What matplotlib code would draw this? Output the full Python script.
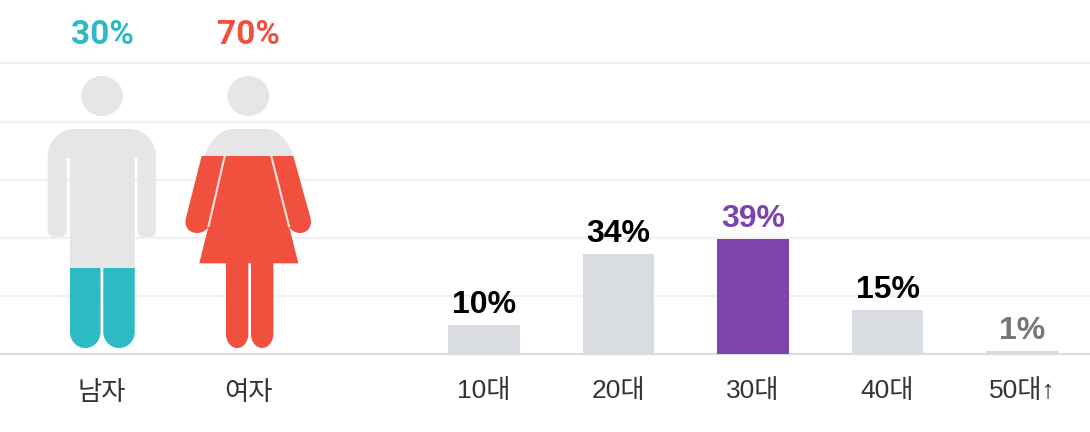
import matplotlib
matplotlib.use("Agg")
import matplotlib.pyplot as plt
from matplotlib.path import Path
from matplotlib.patches import PathPatch, Ellipse, Rectangle

gender_labels = ["남자", "여자"]
gender_values = [30, 70]
age_labels = ["10대", "20대", "30대", "40대", "50대↑"]
age_values = [10, 34, 39, 15, 1]

W, H = 1090, 432
GREY = "#e6e6e6"
TEAL = "#2cbac5"
RED = "#f2503e"
BAR = "#d9dde1"
PURPLE = "#7d44ab"
LABEL_FONT = ["Liberation Sans", "Noto Sans CJK KR"]


def outline(start):
    # small path builder, corner() rounds towards the corner point
    verts = [start]
    codes = [Path.MOVETO]

    def line(*pts):
        for p in pts:
            verts.append(p)
            codes.append(Path.LINETO)

    def corner(c, p):
        a = verts[-1]
        k = 0.55
        verts.append((a[0] + (c[0] - a[0]) * k, a[1] + (c[1] - a[1]) * k))
        verts.append((p[0] + (c[0] - p[0]) * k, p[1] + (c[1] - p[1]) * k))
        verts.append(p)
        codes.extend([Path.CURVE4] * 3)

    def done():
        verts.append(start)
        codes.append(Path.CLOSEPOLY)
        return Path(verts, codes)

    return line, corner, done


def man_path():
    line, corner, done = outline((47.7, 156))
    corner((47.7, 129), (75, 129))
    line((129, 129))
    corner((156, 129), (156, 156))
    line((156, 231))
    corner((156, 237), (150, 237))
    line((143, 237))
    corner((137.4, 237), (137.4, 231))
    line((137.4, 158), (134.7, 158), (134.7, 332))
    corner((134.7, 348), (119, 348))
    corner((103.3, 348), (103.3, 332))
    line((103.3, 268), (100.5, 268), (100.5, 332))
    corner((100.5, 348), (85.2, 348))
    corner((70, 348), (70, 332))
    line((70, 158), (66.7, 158), (66.7, 231))
    corner((66.7, 237), (61, 237))
    line((54, 237))
    corner((47.7, 237), (47.7, 231))
    return done()


def woman_path():
    line, corner, done = outline((205, 156))
    corner((212, 129), (232, 129))
    line((266, 129))
    corner((286, 129), (293.3, 156))
    line((310.5, 218))
    corner((314, 233), (300, 233))
    corner((291, 233), (289, 226))
    line((298.3, 263.3), (273.3, 263.3), (273.3, 334))
    corner((273.3, 348), (262, 348))
    corner((251, 348), (251, 334))
    line((251, 263.3), (248.3, 263.3), (248.3, 334))
    corner((248.3, 348), (237, 348))
    corner((226, 348), (226, 334))
    line((226, 263.3), (199.3, 263.3), (208.6, 226))
    corner((206.6, 233), (197, 233))
    corner((182, 233), (186, 218))
    line((201.7, 156))
    return done()


fig = plt.figure(figsize=(W / 100, H / 100), dpi=100)

# background axes in picture pixels: grid lines and the two figures
bg = fig.add_axes([0, 0, 1, 1])
bg.set_xlim(0, W)
bg.set_ylim(H, 0)
bg.axis("off")

for gy in [63, 121.5, 179.5, 238, 296]:
    bg.axhline(gy, color="#f1f1f1", lw=1.6, zorder=1)
bg.axhline(354, color="#dcdcdc", lw=1.6, zorder=1)

people = [
    (man_path(), 102, TEAL, 268),
    (woman_path(), 248.3, RED, 156),
]
for i, (shape, cx, col, level) in enumerate(people):
    bg.add_patch(Ellipse((cx, 96), 42, 40, color=GREY, lw=0, zorder=2))
    bg.add_patch(PathPatch(shape, fc=GREY, ec="none", zorder=2))
    fill = PathPatch(shape, fc=col, ec="none", zorder=3)
    bg.add_patch(fill)
    fill.set_clip_path(Rectangle((cx - 80, level), 160, 360 - level, transform=bg.transData))
    bg.text(cx, 44, f"{gender_values[i]}%", color=col, fontsize=24, fontweight="bold",
            family="Roboto", ha="center", va="baseline", zorder=5)
    bg.text(cx, 400, gender_labels[i], color="#333333", fontsize=19,
            family=LABEL_FONT, ha="center", va="baseline", zorder=5)

# thin slits between arms and dress, and between the legs
bg.plot([224.5, 208.6], [157, 226], color="#fbe3df", lw=1.5, zorder=4)
bg.plot([271.5, 289], [157, 226], color="#fbe3df", lw=1.5, zorder=4)

# bars go in their own axes, baseline on the same line as the grid
left = 416.75
ax = fig.add_axes([left / W, (H - 354) / H, 672.5 / W, 147 / H])
ax.patch.set_alpha(0)
ax.set_xlim(-0.5, 4.5)
ax.set_ylim(0, 50)
for s in ax.spines.values():
    s.set_visible(False)
ax.set_yticks([])

colors = [BAR, BAR, PURPLE, BAR, BAR]
text_colors = ["black", "black", PURPLE, "black", "#777777"]
ax.bar(range(len(age_values)), age_values, width=0.535, color=colors, zorder=3)
for i, v in enumerate(age_values):
    ax.annotate(f"{v}%", (i, v), xytext=(0, 8.6), textcoords="offset points",
                ha="center", va="baseline", fontsize=23, fontweight="bold",
                color=text_colors[i], family="Liberation Sans", annotation_clip=False)

ax.set_xticks(range(len(age_labels)))
ax.set_xticklabels(age_labels, fontsize=19, color="#333333", family=LABEL_FONT)
ax.tick_params(axis="x", length=0, pad=18)

fig.savefig("out.png", dpi=100, facecolor="white")
